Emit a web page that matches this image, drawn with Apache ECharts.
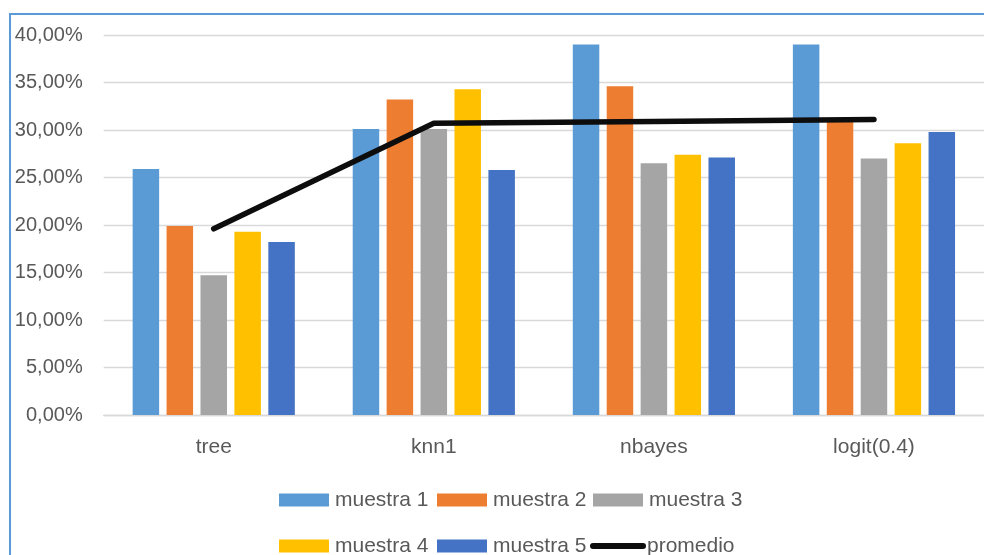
<!DOCTYPE html>
<html>
<head>
<meta charset="utf-8">
<script src="https://cdn.jsdelivr.net/npm/echarts@6/dist/echarts.min.js"></script>
<style>
html,body{margin:0;padding:0;background:#fff;}
#chart{width:984px;height:555px;}
</style>
</head>
<body>
<div id="chart"></div>
<script>
const categories = ['tree', 'knn1', 'nbayes', 'logit(0.4)'];
const muestra1 = [25.9, 30.1, 39.0, 39.0];
const muestra2 = [19.9, 33.2, 34.6, 31.0];
const muestra3 = [14.7, 30.1, 26.5, 27.0];
const muestra4 = [19.3, 34.3, 27.4, 28.6];
const muestra5 = [18.2, 25.8, 27.1, 29.8];
const promedio = [19.6, 30.7, 30.9, 31.1];
const yTicks = { min: 0, max: 40, interval: 5 };

const barNames = ['muestra 1', 'muestra 2', 'muestra 3', 'muestra 4', 'muestra 5'];
const barData = [muestra1, muestra2, muestra3, muestra4, muestra5];
const colors = ['#5B9BD5', '#ED7D31', '#A5A5A5', '#FFC000', '#4472C4'];

const FONT = 'Liberation Sans';
const TXT = '#595959';

const series = barNames.map((n, i) => ({
  name: n,
  type: 'bar',
  data: barData[i],
  barWidth: 26.5,
  barGap: '28%',
  itemStyle: { color: colors[i] },
  z: 2
}));
series.push({
  name: 'promedio',
  type: 'line',
  data: promedio,
  symbol: 'none',
  lineStyle: { color: '#0d0d0d', width: 5.5, cap: 'round', join: 'round' },
  itemStyle: { color: '#0d0d0d' },
  z: 5
});

// legend positions (swatch left x, row center y)
const legendPos = [
  [279, 500], [437, 500], [593, 500],
  [279, 546], [437, 546], [590, 546]
];
const legendNames = barNames.concat(['promedio']);
const legends = legendNames.map((n, i) => {
  const isLine = n === 'promedio';
  return {
    data: [n],
    left: legendPos[i][0],
    top: legendPos[i][1] - 11,
    padding: 0,
    itemWidth: isLine ? 56 : 50,
    itemHeight: isLine ? 6 : 13,
    icon: isLine ? 'path://M3,0 L53,0 A3,3 0 0 1 53,6 L3,6 A3,3 0 0 1 3,0 Z' : 'rect',
    itemGap: 0,
    selectedMode: false,
    textStyle: { color: TXT, fontFamily: FONT, fontSize: 21, lineHeight: 22, padding: [0, 0, 0, isLine ? -4 : 1] }
  };
});

const chart = echarts.init(document.getElementById('chart'), null, { renderer: 'canvas' });
chart.setOption({
  animation: false,
  backgroundColor: '#ffffff',
  color: colors.concat(['#0d0d0d']),
  grid: { left: 103.7, top: 35, width: 882.4, height: 380, containLabel: false },
  xAxis: {
    type: 'category',
    data: categories,
    axisLine: { show: true, lineStyle: { color: '#D9D9D9', width: 1.3 } },
    axisTick: { show: false },
    axisLabel: { color: TXT, fontFamily: FONT, fontSize: 21, margin: 22 },
    z: 1
  },
  yAxis: {
    type: 'value',
    min: yTicks.min,
    max: yTicks.max,
    interval: yTicks.interval,
    axisLine: { show: false },
    axisTick: { show: false },
    splitLine: { lineStyle: { color: '#D9D9D9', width: 1.3 } },
    axisLabel: {
      color: TXT, fontFamily: FONT, fontSize: 20, margin: 21,
      formatter: v => v.toFixed(2).replace('.', ',') + '%'
    }
  },
  legend: legends,
  series: series,
  graphic: [{
    type: 'rect',
    shape: { x: 10, y: 14, width: 1200, height: 800 },
    style: { fill: null, stroke: '#5B9BD5', lineWidth: 2 },
    silent: true,
    z: 0
  }]
});
</script>
</body>
</html>
